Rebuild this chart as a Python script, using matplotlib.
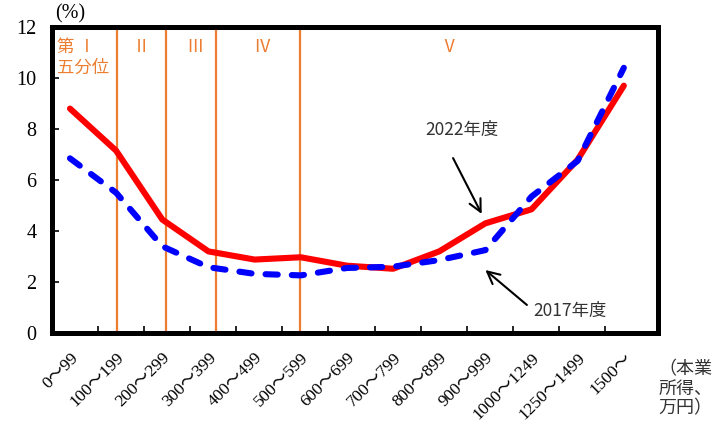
import matplotlib
matplotlib.use("Agg")
import matplotlib.pyplot as plt
import numpy as np

# datos
categorias = ["0～99", "100～199", "200～299", "300～399", "400～499", "500～599",
              "600～699", "700～799", "800～899", "900～999", "1000～1249",
              "1250～1499", "1500～"]
tasa_2022 = [8.8, 7.15, 4.45, 3.2, 2.88, 2.97, 2.64, 2.52, 3.2, 4.3, 4.85, 6.8, 9.7]
tasa_2017 = [6.85, 5.5, 3.4, 2.58, 2.32, 2.26, 2.55, 2.6, 2.86, 3.25, 5.35, 6.75, 10.4]
quintiles = ["第 Ⅰ\n五分位", "Ⅱ", "Ⅲ", "Ⅳ", "Ⅴ"]
yticks = [0, 2, 4, 6, 8, 10, 12]

serif = ["Liberation Serif", "Noto Sans CJK JP"]
cjk = ["Noto Sans CJK JP", "DejaVu Sans"]
naranja = "#ED7D31"

fig = plt.figure(figsize=(7.21, 4.26), dpi=100)
ax = fig.add_axes([0.0721, 0.2183, 0.8405, 0.7183])

x = np.arange(len(categorias))
ax.plot(x, tasa_2022, color="#FF0000", lw=4.4, solid_capstyle="round",
        solid_joinstyle="round", zorder=3)
ax.plot(x, tasa_2017, color="#0000FF", lw=4.4, ls=(0, (2.0, 2.3)),
        dash_capstyle="round", zorder=4)

# lineas de quintiles
for xv in [1.02, 2.08, 3.16, 4.99]:
    ax.axvline(xv, color=naranja, lw=1.6, zorder=2)

pos_q = [(0.008, 0.965), (0.148, 0.965), (0.236, 0.965), (0.346, 0.965), (0.655, 0.965)]
for txt, (px, py) in zip(quintiles, pos_q):
    ha = "left" if txt.startswith("第") else "center"
    ax.text(px, py, txt, transform=ax.transAxes, color=naranja, fontsize=12.5,
            family=cjk, ha=ha, va="top", linespacing=1.2)

ax.set_xlim(-0.39, 12.74)
ax.set_ylim(0, 12)
ax.set_yticks(yticks)
ax.set_yticklabels([str(v) for v in yticks], family=serif, fontsize=14.5)
ax.set_xticks(x)
ax.set_xticklabels(categorias, rotation=45, ha="right", rotation_mode="anchor",
                   family=serif, fontsize=12.5)
ax.set_xticks(np.arange(12) + 0.6, minor=True)
ax.tick_params(axis="x", which="major", length=0, pad=12)
ax.tick_params(axis="x", which="minor", direction="in", length=5, width=1.2)
ax.tick_params(axis="y", direction="in", length=5, width=1.2, pad=11)
for s in ax.spines.values():
    s.set_linewidth(3.6)
    s.set_color("black")

fig.text(0.076, 0.945, "(%)", family=serif, fontsize=14.5, ha="left", va="bottom")

# etiquetas y flechas
ax.text(8.49, 7.96, "2022年度", family=cjk, fontsize=12.5, color="#333333",
        ha="center", va="center")
ax.annotate("", xy=(8.92, 4.67), xytext=(8.3, 6.86),
            arrowprops=dict(arrowstyle="->", color="black", lw=1.5,
                            shrinkA=0, shrinkB=0, mutation_scale=22))
ax.text(10.83, 0.86, "2017年度", family=cjk, fontsize=12.5, color="#333333",
        ha="center", va="center")
ax.annotate("", xy=(9.0, 2.47), xytext=(9.9, 1.1),
            arrowprops=dict(arrowstyle="->", color="black", lw=1.5,
                            shrinkA=0, shrinkB=0, mutation_scale=22))

fig.text(0.913, 0.02, "（本業\n所得、\n万円）", family=cjk, fontsize=13,
         color="#333333", ha="left", va="bottom", linespacing=1.1)

fig.savefig("out.png", dpi=100)
